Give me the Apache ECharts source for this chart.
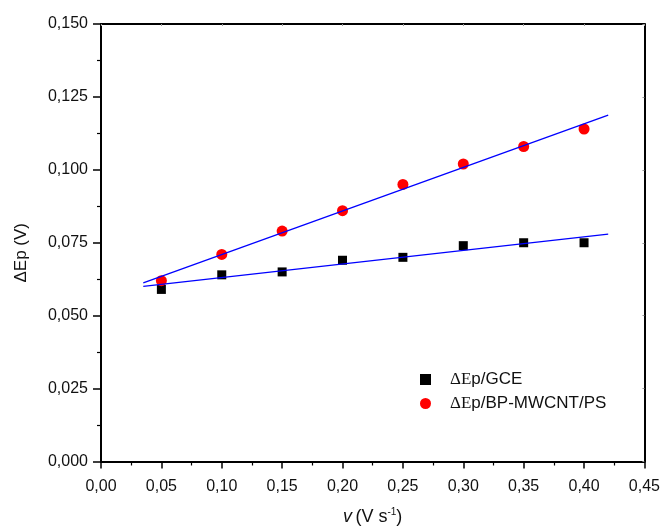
<!DOCTYPE html>
<html>
<head>
<meta charset="utf-8">
<script src="https://cdn.jsdelivr.net/npm/echarts@6/dist/echarts.min.js"></script>
<style>html,body{margin:0;padding:0;background:#fff}#c{width:663px;height:531px}</style>
</head>
<body>
<div id="c"></div>
<script>
var scanRates = [0.05, 0.10, 0.15, 0.20, 0.25, 0.30, 0.35, 0.40];
var dEpGCE = [0.059, 0.064, 0.065, 0.069, 0.070, 0.074, 0.075, 0.075];
var dEpBP = [0.062, 0.071, 0.079, 0.086, 0.095, 0.102, 0.108, 0.114];
var fitRange = [0.035, 0.42];
var seriesNames = ['ΔEp/GCE', 'ΔEp/BP-MWCNT/PS'];

function linFit(xs, ys) {
  var n = xs.length, mx = 0, my = 0;
  for (var i = 0; i < n; i++) { mx += xs[i]; my += ys[i]; }
  mx /= n; my /= n;
  var sxy = 0, sxx = 0;
  for (var j = 0; j < n; j++) { sxy += (xs[j] - mx) * (ys[j] - my); sxx += (xs[j] - mx) * (xs[j] - mx); }
  var b = sxy / sxx, a = my - b * mx;
  return fitRange.map(function (x) { return [x, a + b * x]; });
}
function pairs(xs, ys) { return xs.map(function (x, i) { return [x, ys[i]]; }); }

var font = '"Liberation Sans", Arial, sans-serif';
var serif = '"Liberation Serif", "Times New Roman", serif';
var lab = { color: '#111', fontSize: 16, fontFamily: font };
var chart = echarts.init(document.getElementById('c'));
chart.setOption({
  animation: false,
  backgroundColor: '#fff',
  grid: { left: 101, right: 17, top: 24, bottom: 67, containLabel: false },
  xAxis: [{
    type: 'value', min: 0, max: 0.45, interval: 0.05, position: 'bottom',
    axisLine: { onZero: false, lineStyle: { color: '#000', width: 2 } },
    axisTick: { inside: false, length: 7, lineStyle: { color: '#000', width: 1.5 } },
    minorTick: { show: true, splitNumber: 2, length: 4, lineStyle: { color: '#000', width: 1.2 } },
    splitLine: { show: false },
    axisLabel: Object.assign({ margin: 17, formatter: function (v) { return v.toFixed(2).replace('.', ','); } }, lab),
    name: '{i|v} {t|(V s}{s|-1}{t|)}',
    nameLocation: 'middle', nameGap: 46,
    nameTextStyle: { rich: {
      i: { fontStyle: 'italic', fontSize: 18, fontFamily: font, color: '#111' },
      t: { fontSize: 18, fontFamily: font, color: '#111' },
      s: { fontSize: 10, fontFamily: font, color: '#111', verticalAlign: 'top', padding: [0, 0, 9, 0] }
    } }
  }, {
    type: 'value', min: 0, max: 0.45, interval: 0.05, position: 'top',
    axisLine: { onZero: false, lineStyle: { color: '#000', width: 2 } },
    axisTick: { inside: true, length: 2, lineStyle: { color: '#999', width: 1 } },
    axisLabel: { show: false }, splitLine: { show: false }
  }],
  yAxis: [{
    type: 'value', min: 0, max: 0.15, interval: 0.025, position: 'left',
    axisLine: { onZero: false, lineStyle: { color: '#000', width: 2 } },
    axisTick: { inside: false, length: 8, lineStyle: { color: '#000', width: 1.5 } },
    minorTick: { show: true, splitNumber: 2, length: 4, lineStyle: { color: '#000', width: 1.2 } },
    splitLine: { show: false },
    axisLabel: Object.assign({ margin: 13, formatter: function (v) { return v.toFixed(3).replace('.', ','); } }, lab),
    name: 'ΔEp (V)', nameLocation: 'middle', nameGap: 71, nameRotate: 90,
    nameTextStyle: { fontSize: 17, fontFamily: font, color: '#111', padding: [0, 20, 0, 0] }
  }, {
    type: 'value', min: 0, max: 0.15, interval: 0.025, position: 'right',
    axisLine: { onZero: false, lineStyle: { color: '#000', width: 2 } },
    axisTick: { inside: true, length: 2, lineStyle: { color: '#999', width: 1 } },
    axisLabel: { show: false }, splitLine: { show: false }
  }],
  legend: {
    data: [{ name: seriesNames[0], icon: 'rect' }, { name: seriesNames[1], icon: 'circle' }],
    orient: 'vertical', left: 415, top: 366, itemGap: 7, itemWidth: 11, itemHeight: 11,
    textStyle: { fontSize: 17, fontFamily: font, color: '#111',
      rich: { g: { fontFamily: serif, fontSize: 17, color: '#111', padding: [0, 0, 0, 14] },
              n: { fontFamily: font, fontSize: 17, color: '#111' } } },
    formatter: function (n) { return '{g|ΔE}{n|' + n.slice(2) + '}'; }
  },
  series: [
    { name: seriesNames[0], type: 'scatter', symbol: 'rect', symbolSize: 9, itemStyle: { color: '#000', opacity: 1 },
      data: pairs(scanRates, dEpGCE), z: 3 },
    { name: seriesNames[1], type: 'scatter', symbol: 'circle', symbolSize: 11, itemStyle: { color: '#ff0000', opacity: 1 },
      data: pairs(scanRates, dEpBP), z: 4 },
    { name: 'fit1', type: 'line', data: linFit(scanRates, dEpGCE), symbol: 'none',
      lineStyle: { color: '#0000ff', width: 1.3 }, z: 5 },
    { name: 'fit2', type: 'line', data: linFit(scanRates, dEpBP), symbol: 'none',
      lineStyle: { color: '#0000ff', width: 1.3 }, z: 5 }
  ]
});
</script>
</body>
</html>
